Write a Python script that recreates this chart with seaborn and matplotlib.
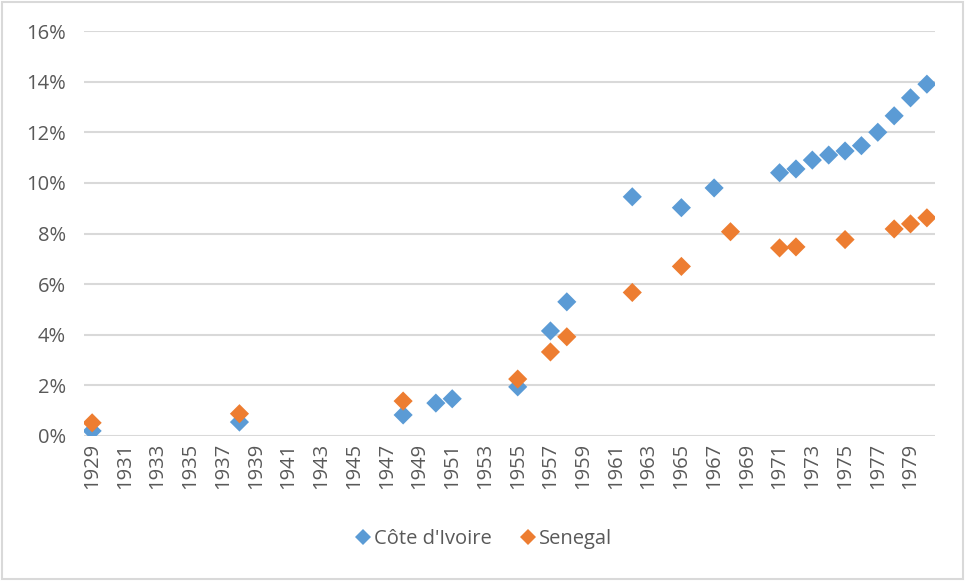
"""Scatter of shares by year, Côte d'Ivoire vs Senegal."""

import matplotlib
matplotlib.use("Agg")

import matplotlib.pyplot as plt
import pandas as pd
import seaborn as sns
from matplotlib.patches import Rectangle
from matplotlib.ticker import PercentFormatter

# ── Data ────────────────────────────────────────────────────────────
civ_years = [1929, 1938, 1948, 1950, 1951, 1955, 1957, 1958, 1962, 1965,
             1967, 1971, 1972, 1973, 1974, 1975, 1976, 1977, 1978, 1979, 1980]
civ_values = [0.20, 0.55, 0.83, 1.30, 1.47, 1.94, 4.15, 5.30, 9.45, 9.02,
              9.80, 10.40, 10.55, 10.90, 11.10, 11.26, 11.47, 12.00, 12.65,
              13.36, 13.90]

sen_years = [1929, 1938, 1948, 1955, 1957, 1958, 1962, 1965, 1968, 1971,
             1972, 1975, 1978, 1979, 1980]
sen_values = [0.52, 0.88, 1.38, 2.25, 3.32, 3.92, 5.67, 6.70, 8.07, 7.43,
              7.47, 7.76, 8.18, 8.38, 8.62]

series_names = ["Côte d'Ivoire", "Senegal"]
palette = ["#5B9BD5", "#ED7D31"]
tick_years = list(range(1929, 1981, 2))

df = pd.concat(
    [
        pd.DataFrame({"year": civ_years, "share": civ_values, "country": series_names[0]}),
        pd.DataFrame({"year": sen_years, "share": sen_values, "country": series_names[1]}),
    ],
    ignore_index=True,
)

# ── Plot ────────────────────────────────────────────────────────────
sns.set_style("white")
plt.rcParams["font.family"] = ["Open Sans", "DejaVu Sans"]
text_color = "#595959"
font_size = 14.5

fig = plt.figure(figsize=(9.65, 5.81), dpi=100)
ax = fig.add_axes([0.087, 0.2496, 0.882, 0.6970])

sns.scatterplot(
    data=df,
    x="year",
    y="share",
    hue="country",
    hue_order=series_names,
    palette=palette,
    marker="D",
    s=95,
    linewidth=0,
    ax=ax,
    zorder=3,
)

ax.set_xlim(1928.5, 1980.5)
ax.set_ylim(0, 16)
ax.set_yticks(range(0, 17, 2))
ax.yaxis.set_major_formatter(PercentFormatter(decimals=0))
ax.set_xticks(tick_years)
ax.set_xticklabels([str(y) for y in tick_years], rotation=90)
ax.tick_params(axis="both", length=0, labelsize=font_size, colors=text_color)
ax.tick_params(axis="y", pad=13)
ax.tick_params(axis="x", pad=5)
ax.set_xlabel("")
ax.set_ylabel("")

ax.grid(axis="y", color="#D9D9D9", linewidth=1.5, zorder=0)
ax.set_axisbelow(True)
for side in ["top", "right", "left", "bottom"]:
    ax.spines[side].set_visible(False)

ax.get_legend().remove()
handles = [
    plt.Line2D([], [], marker="D", linestyle="", markersize=8,
               markerfacecolor=c, markeredgewidth=0)
    for c in palette
]
fig.legend(
    handles,
    series_names,
    loc="center",
    bbox_to_anchor=(0.5, 0.072),
    ncol=2,
    frameon=False,
    fontsize=font_size,
    labelcolor=text_color,
    handletextpad=0.05,
    columnspacing=1.3,
    handlelength=1.0,
)

fig.patches.append(
    Rectangle((0.002, 0.003), 0.996, 0.994, transform=fig.transFigure,
              fill=False, edgecolor="#D9D9D9", linewidth=1.5)
)

fig.savefig("out.png", dpi=100)
plt.close(fig)
